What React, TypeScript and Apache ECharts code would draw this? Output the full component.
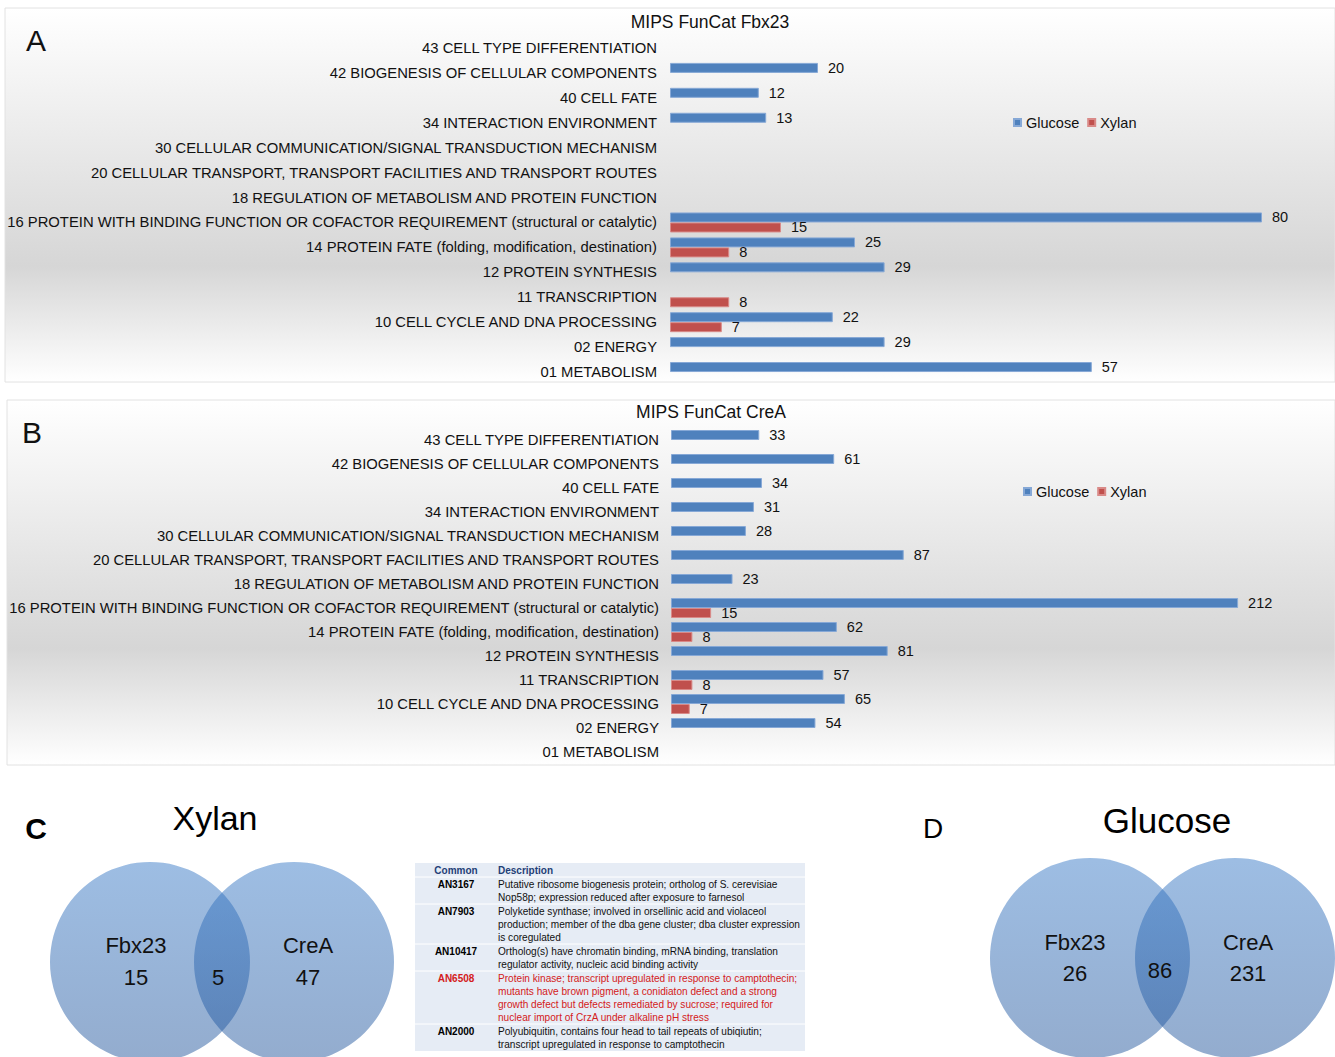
import React, { useEffect, useRef } from "react";
import * as echarts from "echarts";

const FONT = "'Liberation Sans', Arial, sans-serif";

const categories = [
  "43 CELL TYPE DIFFERENTIATION",
  "42 BIOGENESIS OF CELLULAR COMPONENTS",
  "40 CELL FATE",
  "34 INTERACTION ENVIRONMENT",
  "30 CELLULAR COMMUNICATION/SIGNAL TRANSDUCTION MECHANISM",
  "20 CELLULAR TRANSPORT, TRANSPORT FACILITIES AND TRANSPORT ROUTES",
  "18 REGULATION OF METABOLISM AND PROTEIN FUNCTION",
  "16 PROTEIN WITH BINDING FUNCTION OR COFACTOR REQUIREMENT (structural or catalytic)",
  "14 PROTEIN FATE (folding, modification, destination)",
  "12 PROTEIN SYNTHESIS",
  "11 TRANSCRIPTION",
  "10 CELL CYCLE AND DNA PROCESSING",
  "02 ENERGY",
  "01 METABOLISM",
];

const fbx23Glucose = [null, 20, 12, 13, null, null, null, 80, 25, 29, null, 22, 29, 57];
const fbx23Xylan = [null, null, null, null, null, null, null, 15, 8, null, 8, 7, null, null];
const creaGlucose = [33, 61, 34, 31, 28, 87, 23, 212, 62, 81, 57, 65, 54, null];
const creaXylan = [null, null, null, null, null, null, null, 15, 8, null, 8, 7, null, null];

const seriesNames = ["Glucose", "Xylan"];
const chartTitles = ["MIPS FunCat Fbx23", "MIPS FunCat CreA"];

const vennXylan = { left: "Fbx23", right: "CreA", onlyLeft: 15, both: 5, onlyRight: 47 };
const vennGlucose = { left: "Fbx23", right: "CreA", onlyLeft: 26, both: 86, onlyRight: 231 };

const tableHeader = ["Common", "Description"];
const tableIds = ["AN3167", "AN7903", "AN10417", "AN6508", "AN2000"];
const tableDescriptions = [
  [
    "Putative ribosome biogenesis protein; ortholog of S. cerevisiae",
    "Nop58p; expression reduced after exposure to farnesol",
  ],
  [
    "Polyketide synthase; involved in orsellinic acid and violaceol",
    "production; member of the dba gene cluster; dba cluster expression",
    "is coregulated",
  ],
  [
    "Ortholog(s) have chromatin binding, mRNA binding, translation",
    "regulator activity, nucleic acid binding activity",
  ],
  [
    "Protein kinase; transcript upregulated in response to camptothecin;",
    "mutants have brown pigment, a conidiaton defect and a strong",
    "growth defect but defects remediated by sucrose; required for",
    "nuclear import of CrzA under alkaline pH stress",
  ],
  [
    "Polyubiquitin, contains four head to tail repeats of ubiqiutin;",
    "transcript upregulated in response to camptothecin",
  ],
];
const tableHighlight = [false, false, false, true, false];

const BLUE = "#4f81bd";
const RED = "#c0504d";

function txt(text: string, x: number, y: number, font: string, fill = "#111", align = "center", z = 10) {
  return {
    type: "text",
    x,
    y,
    z,
    style: {
      text,
      font,
      fill,
      align,
      verticalAlign: "middle",
      textAlign: align,
      textVerticalAlign: "middle",
    },
  };
}

function panelBg(x: number, y: number, w: number, h: number, peak: number) {
  return {
    type: "rect",
    z: -10,
    shape: { x, y, width: w, height: h },
    style: {
      fill: new echarts.graphic.LinearGradient(0, 0, 0, 1, [
        { offset: 0, color: "#ffffff" },
        { offset: peak, color: "#d6d6d6" },
        { offset: 1, color: "#ffffff" },
      ]),
      stroke: "#e2e2e2",
      lineWidth: 1,
    },
  };
}

function vennCircle(cx: number, cy: number, r: number) {
  return {
    type: "circle",
    z: 5,
    shape: { cx, cy, r },
    style: {
      fill: new echarts.graphic.LinearGradient(0, 0, 0, 1, [
        { offset: 0, color: "rgba(51,118,197,0.48)" },
        { offset: 1, color: "rgba(30,82,153,0.48)" },
      ]),
    },
  };
}

function buildTable() {
  const els: any[] = [];
  const x0 = 415;
  const x1 = 805;
  const y0 = 863;
  const lineH = 13;
  els.push({ type: "rect", z: 5, shape: { x: x0, y: y0, width: x1 - x0, height: 188 }, style: { fill: "#e6ecf5" } });
  const idX = 456;
  const descX = 498;
  const hFont = `bold 10px ${FONT}`;
  els.push(txt(tableHeader[0], idX, y0 + 7, hFont, "#1f3f77", "center"));
  els.push(txt(tableHeader[1], descX, y0 + 7, hFont, "#1f3f77", "left"));
  let top = y0 + 14;
  tableIds.forEach((id, i) => {
    els.push({ type: "line", z: 6, shape: { x1: x0, y1: top, x2: x1, y2: top }, style: { stroke: "#ffffff", lineWidth: 1 } });
    const color = tableHighlight[i] ? "#d42020" : "#111";
    els.push(txt(id, idX, top + 7, `bold 10px ${FONT}`, tableHighlight[i] ? "#d42020" : "#000", "center"));
    tableDescriptions[i].forEach((line, k) => {
      els.push(txt(line, descX, top + 7 + k * lineH, `10.1px ${FONT}`, color, "left"));
    });
    top += tableDescriptions[i].length * lineH + 1;
  });
  return els;
}

function barSeries(name: string, data: (number | null)[], axis: number, color: string, border: string) {
  return {
    name,
    type: "bar",
    xAxisIndex: axis,
    yAxisIndex: axis,
    data,
    barWidth: 10,
    barGap: "0%",
    itemStyle: { color, borderColor: border, borderWidth: 1 },
    label: {
      show: true,
      position: "right",
      distance: 10,
      fontSize: 14.5,
      fontFamily: FONT,
      color: "#111",
      formatter: (p: any) => (p.value == null ? "" : String(p.value)),
    },
  };
}

export default function App() {
  const ref = useRef<HTMLDivElement>(null);
  useEffect(() => {
    if (!ref.current) return;
    const chart = echarts.init(ref.current, undefined, { renderer: "svg" });
    const yAxisCommon = {
      type: "category",
      data: categories,
      inverse: true,
      axisLine: { show: false },
      axisTick: { show: false },
      splitLine: { show: false },
    };
    const legendCommon = {
      data: seriesNames,
      icon: "rect",
      itemWidth: 7,
      itemHeight: 7,
      itemGap: 8,
      padding: 0,
      textStyle: { fontSize: 14.5, fontFamily: FONT, color: "#111" },
    };
    const option: any = {
      animation: false,
      backgroundColor: "#ffffff",
      grid: [
        { left: 670, top: 35.5, width: 7.4 * 85, height: 349, containLabel: false },
        { left: 671, top: 428, width: 2.675 * 240, height: 336, containLabel: false },
      ],
      xAxis: [
        { gridIndex: 0, type: "value", min: 0, max: 85, show: false },
        { gridIndex: 1, type: "value", min: 0, max: 240, show: false },
      ],
      yAxis: [
        { ...yAxisCommon, gridIndex: 0, axisLabel: { fontSize: 14.8, fontFamily: FONT, color: "#111", margin: 13 } },
        { ...yAxisCommon, gridIndex: 1, axisLabel: { fontSize: 14.8, fontFamily: FONT, color: "#111", margin: 12 } },
      ],
      legend: [
        { ...legendCommon, left: 1013, top: 115 },
        { ...legendCommon, left: 1023, top: 484 },
      ],
      series: [
        barSeries(seriesNames[0], fbx23Glucose, 0, BLUE, "#86a8d6"),
        barSeries(seriesNames[1], fbx23Xylan, 0, RED, "#d98a88"),
        barSeries(seriesNames[0], creaGlucose, 1, BLUE, "#86a8d6"),
        barSeries(seriesNames[1], creaXylan, 1, RED, "#d98a88"),
      ],
      graphic: {
        elements: [
          panelBg(5, 8, 1330, 374, 0.69),
          panelBg(7, 400, 1328, 365, 0.68),
          txt("A", 36, 40, `30px ${FONT}`, "#111"),
          txt("B", 32, 432, `30px ${FONT}`, "#111"),
          txt(chartTitles[0], 710, 22, `17.5px ${FONT}`, "#111"),
          txt(chartTitles[1], 711, 412, `17.5px ${FONT}`, "#111"),
          // Panel C
          txt("C", 36, 828, `bold 30px ${FONT}`, "#000"),
          txt("Xylan", 215, 818, `34px ${FONT}`, "#000"),
          vennCircle(150, 962, 100),
          vennCircle(294, 962, 100),
          txt(vennXylan.left, 136, 945, `22px ${FONT}`, "#111"),
          txt(String(vennXylan.onlyLeft), 136, 977, `22px ${FONT}`, "#111"),
          txt(String(vennXylan.both), 218, 977, `22px ${FONT}`, "#111"),
          txt(vennXylan.right, 308, 945, `22px ${FONT}`, "#111"),
          txt(String(vennXylan.onlyRight), 308, 977, `22px ${FONT}`, "#111"),
          // Panel D
          txt("D", 933, 828, `28px ${FONT}`, "#000"),
          txt("Glucose", 1167, 820, `35px ${FONT}`, "#000"),
          vennCircle(1090, 958, 100),
          vennCircle(1235, 958, 100),
          txt(vennGlucose.left, 1075, 942, `22px ${FONT}`, "#111"),
          txt(String(vennGlucose.onlyLeft), 1075, 973, `22px ${FONT}`, "#111"),
          txt(String(vennGlucose.both), 1160, 970, `22px ${FONT}`, "#111"),
          txt(vennGlucose.right, 1248, 942, `22px ${FONT}`, "#111"),
          txt(String(vennGlucose.onlyRight), 1248, 973, `22px ${FONT}`, "#111"),
          ...buildTable(),
        ],
      },
    };
    chart.setOption(option);
    return () => chart.dispose();
  }, []);
  return (
    <div
      ref={ref}
      style={{ position: "absolute", left: 0, top: 0, width: 1335, height: 1057, background: "#fff" }}
    />
  );
}
